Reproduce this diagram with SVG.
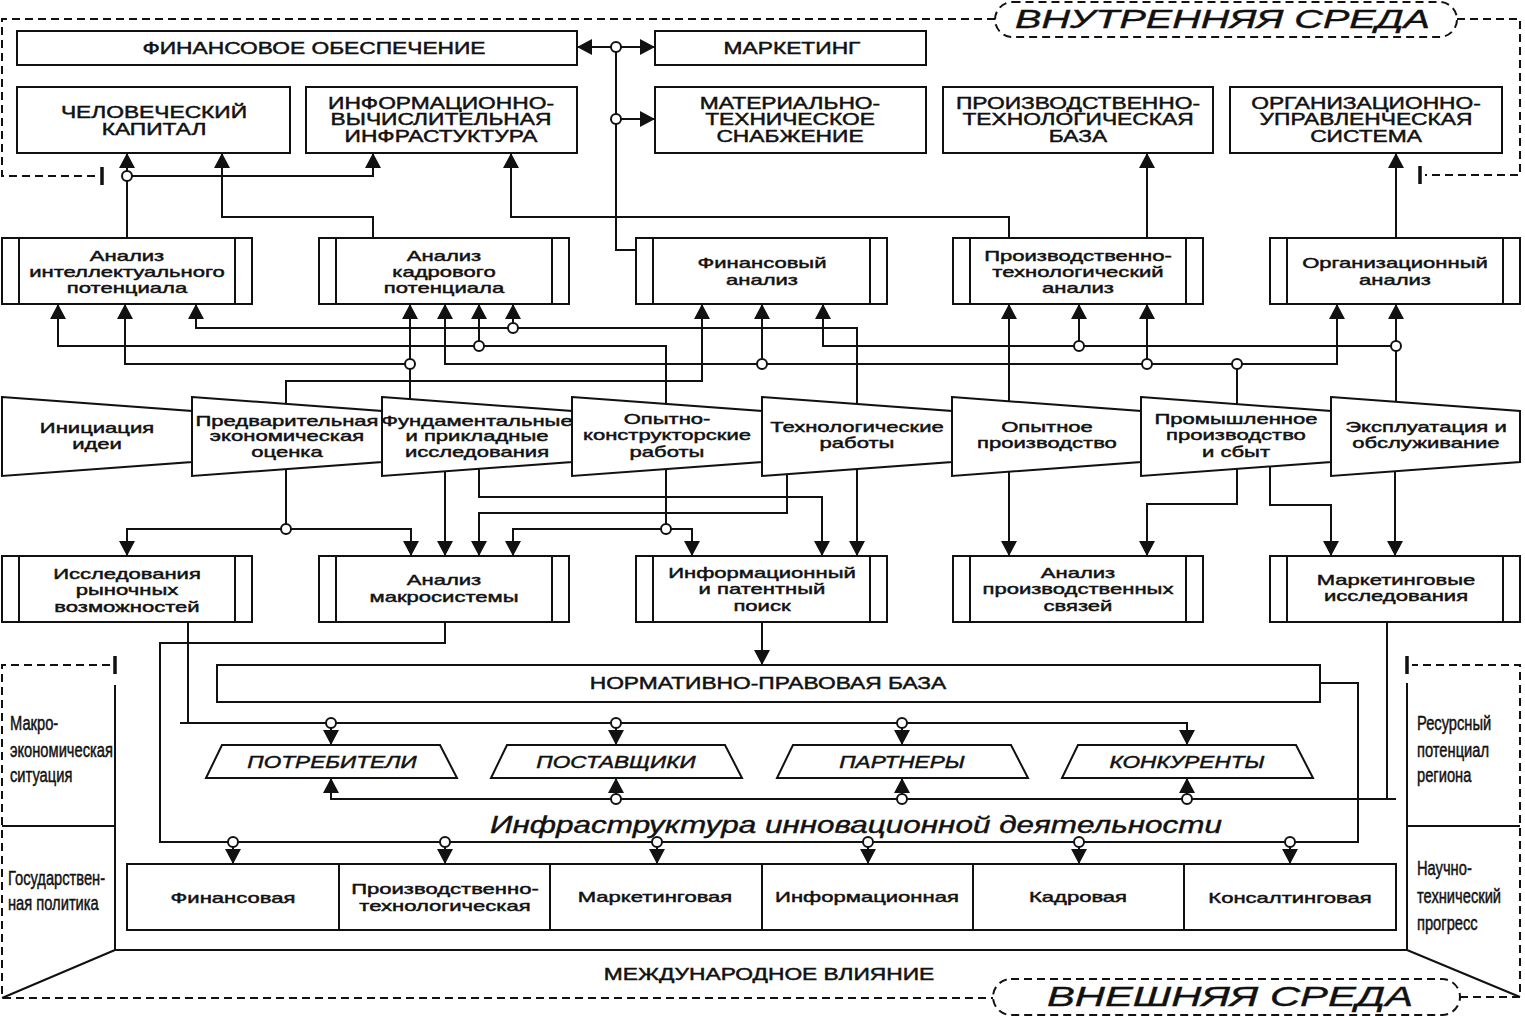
<svg xmlns="http://www.w3.org/2000/svg" width="1525" height="1016" viewBox="0 0 1525 1016">
<style>
.bx{fill:#fff;stroke:#111;stroke-width:2}
.ln{fill:none;stroke:#111;stroke-width:2}
.ar{fill:none;stroke:#111;stroke-width:2;marker-end:url(#ah)}
.dl{fill:none;stroke:#111;stroke-width:2;stroke-dasharray:8 5}
.tk{fill:none;stroke:#111;stroke-width:3.5}
.jn{fill:#fff;stroke:#111;stroke-width:2}
text{fill:#111;font-family:"Liberation Sans",Arial,sans-serif}
.u{font-size:16.5px;text-anchor:middle;stroke:#111;stroke-width:0.45px}
.l{font-size:15px;text-anchor:middle;stroke:#111;stroke-width:0.45px}
.i{font-size:17px;font-style:italic;text-anchor:middle;stroke:#111;stroke-width:0.45px}
.n{font-size:21px;stroke:#111;stroke-width:0.5px}
.big{font-style:italic;stroke:#111;stroke-width:0.4px}
</style>
<defs>
<marker id="ah" viewBox="0 0 15 16" refX="15" refY="8" markerWidth="15" markerHeight="16" markerUnits="userSpaceOnUse" orient="auto"><path d="M0,0L15,8L0,16z" fill="#111"/></marker>
</defs>
<rect width="1525" height="1016" fill="#fff"/>

<!-- frames -->
<g id="vnutrennyaya-sreda">
<path class="dl" d="M995,19H2V176H97"/>
<path class="dl" d="M1457,19H1520V175H1425"/>
<path class="tk" d="M102,167V185M1420,166V184"/>
<rect class="dl" x="995" y="2" width="462" height="35" rx="17.5"/>
<text class="big" x="1015" y="28" font-size="25" textLength="415" lengthAdjust="spacingAndGlyphs">ВНУТРЕННЯЯ СРЕДА</text>
</g>
<g id="vneshnyaya-sreda">
<path class="dl" d="M110,665H2V998H993"/>
<path class="dl" d="M1460,997H1520V665H1412"/>
<path class="tk" d="M115,656V674M1407,656V674"/>
<path class="ln" d="M115,685V950H1407V683M2,826H115M1407,826H1520M115,950L2,998M1407,950L1520,997"/>
<rect class="dl" x="993" y="979" width="467" height="36" rx="18"/>
<text class="big" x="1047" y="1006" font-size="28" textLength="366" lengthAdjust="spacingAndGlyphs">ВНЕШНЯЯ СРЕДА</text>
<text class="n" transform="translate(10,730) scale(0.7,1)"><tspan x="0">Макро-</tspan><tspan x="0" dy="27">экономическая</tspan><tspan x="0" dy="25">ситуация</tspan></text>
<text class="n" transform="translate(8,885) scale(0.7,1)"><tspan x="0">Государствен-</tspan><tspan x="0" dy="25">ная политика</tspan></text>
<text class="n" transform="translate(1417,730) scale(0.7,1)"><tspan x="0">Ресурсный</tspan><tspan x="0" dy="27">потенциал</tspan><tspan x="0" dy="25">региона</tspan></text>
<text class="n" transform="translate(1417,875) scale(0.7,1)"><tspan x="0">Научно-</tspan><tspan x="0" dy="28">технический</tspan><tspan x="0" dy="27">прогресс</tspan></text>
<text class="u" transform="translate(769,980) scale(1.38,1)">МЕЖДУНАРОДНОЕ ВЛИЯНИЕ</text>
<text x="490" y="833" font-family="'Noto Sans',sans-serif" font-style="italic" font-size="23" stroke="#111" stroke-width="0.4" textLength="732" lengthAdjust="spacingAndGlyphs">Инфраструктура инновационной деятельности</text>
</g>

<!-- connectors -->
<g id="connectors">
<path class="ar" d="M127,238V153"/>
<path class="ar" d="M127,176H373V153"/>
<path class="ar" d="M373,238V217H222V153"/>
<path class="ar" d="M1009,238V217H511V153"/>
<path class="ar" d="M636,250H616V47H577"/>
<path class="ar" d="M616,47H655"/>
<path class="ar" d="M616,119H655"/>
<path class="ar" d="M1147,238V153"/>
<path class="ar" d="M1396,238V153"/>

<path class="ar" d="M286,404V381H702V304"/>
<path class="ar" d="M410,399V304"/>
<path class="ar" d="M410,364H125V304"/>
<path class="ar" d="M666,404V346H58V304"/>
<path class="ar" d="M479,346V304"/>
<path class="ar" d="M857,404V328H196V304"/>
<path class="ar" d="M513,328V304"/>
<path class="ar" d="M1237,404V364H445V304"/>
<path class="ar" d="M762,364V304"/>
<path class="ar" d="M1147,364V304"/>
<path class="ar" d="M1237,364H1337V304"/>
<path class="ar" d="M1396,402V304"/>
<path class="ar" d="M1396,346H823V304"/>
<path class="ar" d="M1079,346V304"/>
<path class="ar" d="M1009,401V304"/>

<path class="ar" d="M286,469V529H127V556"/>
<path class="ar" d="M286,529H411V556"/>
<path class="ar" d="M445,471V556"/>
<path class="ar" d="M479,468V497H822V556"/>
<path class="ar" d="M787,474V513H479V556"/>
<path class="ar" d="M666,469V529H513V556"/>
<path class="ar" d="M666,529H692V556"/>
<path class="ar" d="M857,469V556"/>
<path class="ar" d="M1009,472V556"/>
<path class="ar" d="M1237,469V504H1147V556"/>
<path class="ar" d="M1270,466V505H1331V556"/>
<path class="ar" d="M1395,471V556"/>

<path class="ar" d="M762,622V665"/>
<path class="ln" d="M188,622V723"/>
<path class="ar" d="M180,723H1187V745"/>
<path class="ar" d="M331,723V745"/>
<path class="ar" d="M616,723V745"/>
<path class="ar" d="M902,723V745"/>
<path class="ln" d="M1387,622V799"/>
<path class="ar" d="M1396,799H331V778"/>
<path class="ar" d="M616,799V778"/>
<path class="ar" d="M902,799V778"/>
<path class="ar" d="M1187,799V778"/>
<path class="ln" d="M445,622V643H160V842H1358V683H1320"/>
<path class="ar" d="M233,842V864"/>
<path class="ar" d="M445,842V864"/>
<path class="ar" d="M657,842V864"/>
<path class="ar" d="M868,842V864"/>
<path class="ar" d="M1079,842V864"/>
<path class="ar" d="M1290,842V864"/>

<g class="jn">
<circle cx="127" cy="176" r="5"/><circle cx="616" cy="47" r="5"/><circle cx="616" cy="119" r="5"/>
<circle cx="410" cy="364" r="5"/><circle cx="479" cy="346" r="5"/><circle cx="513" cy="328" r="5"/>
<circle cx="762" cy="364" r="5"/><circle cx="1147" cy="364" r="5"/><circle cx="1237" cy="364" r="5"/>
<circle cx="1079" cy="346" r="5"/><circle cx="1396" cy="346" r="5"/>
<circle cx="286" cy="529" r="5"/><circle cx="666" cy="529" r="5"/>
<circle cx="331" cy="723" r="5"/><circle cx="616" cy="723" r="5"/><circle cx="902" cy="723" r="5"/>
<circle cx="616" cy="799" r="5"/><circle cx="902" cy="799" r="5"/><circle cx="1187" cy="799" r="5"/>
<circle cx="233" cy="842" r="5"/><circle cx="445" cy="842" r="5"/><circle cx="657" cy="842" r="5"/>
<circle cx="868" cy="842" r="5"/><circle cx="1079" cy="842" r="5"/><circle cx="1290" cy="842" r="5"/>
</g>
</g>

<!-- top resource boxes -->
<g id="fin-obespechenie"><rect class="bx" x="17" y="31" width="560" height="34"/><text class="u" transform="translate(314,54) scale(1.38,1)">ФИНАНСОВОЕ ОБЕСПЕЧЕНИЕ</text></g>
<g id="marketing"><rect class="bx" x="655" y="31" width="271" height="34"/><text class="u" transform="translate(792,54) scale(1.38,1)">МАРКЕТИНГ</text></g>
<g id="chel-kapital"><rect class="bx" x="17" y="87" width="273" height="66"/><text class="u" transform="translate(154,118) scale(1.38,1)"><tspan x="0">ЧЕЛОВЕЧЕСКИЙ</tspan><tspan x="0" dy="17">КАПИТАЛ</tspan></text></g>
<g id="inf-vych"><rect class="bx" x="306" y="87" width="271" height="66"/><text class="u" transform="translate(441,109) scale(1.38,1)"><tspan x="0">ИНФОРМАЦИОННО-</tspan><tspan x="0" dy="16.5">ВЫЧИСЛИТЕЛЬНАЯ</tspan><tspan x="0" dy="16.5">ИНФРАСТУКТУРА</tspan></text></g>
<g id="mat-tech"><rect class="bx" x="655" y="87" width="271" height="66"/><text class="u" transform="translate(790,109) scale(1.38,1)"><tspan x="0">МАТЕРИАЛЬНО-</tspan><tspan x="0" dy="16.5">ТЕХНИЧЕСКОЕ</tspan><tspan x="0" dy="16.5">СНАБЖЕНИЕ</tspan></text></g>
<g id="pt-baza"><rect class="bx" x="943" y="87" width="270" height="66"/><text class="u" transform="translate(1078,109) scale(1.38,1)"><tspan x="0">ПРОИЗВОДСТВЕННО-</tspan><tspan x="0" dy="16.5">ТЕХНОЛОГИЧЕСКАЯ</tspan><tspan x="0" dy="16.5">БАЗА</tspan></text></g>
<g id="ou-sistema"><rect class="bx" x="1230" y="87" width="272" height="66"/><text class="u" transform="translate(1366,109) scale(1.38,1)"><tspan x="0">ОРГАНИЗАЦИОННО-</tspan><tspan x="0" dy="16.5">УПРАВЛЕНЧЕСКАЯ</tspan><tspan x="0" dy="16.5">СИСТЕМА</tspan></text></g>

<!-- analysis row 1 -->
<g id="an-intel"><rect class="bx" x="2" y="238" width="250" height="66"/><path class="ln" d="M19,238V304M235,238V304"/><text class="l" transform="translate(127,261) scale(1.47,1)"><tspan x="0">Анализ</tspan><tspan x="0" dy="16">интеллектуального</tspan><tspan x="0" dy="16">потенциала</tspan></text></g>
<g id="an-kadr"><rect class="bx" x="319" y="238" width="250" height="66"/><path class="ln" d="M336,238V304M552,238V304"/><text class="l" transform="translate(444,261) scale(1.47,1)"><tspan x="0">Анализ</tspan><tspan x="0" dy="16">кадрового</tspan><tspan x="0" dy="16">потенциала</tspan></text></g>
<g id="an-fin"><rect class="bx" x="636" y="238" width="251" height="66"/><path class="ln" d="M653,238V304M870,238V304"/><text class="l" transform="translate(762,268) scale(1.47,1)"><tspan x="0">Финансовый</tspan><tspan x="0" dy="17">анализ</tspan></text></g>
<g id="an-pt"><rect class="bx" x="953" y="238" width="250" height="66"/><path class="ln" d="M970,238V304M1186,238V304"/><text class="l" transform="translate(1078,261) scale(1.47,1)"><tspan x="0">Производственно-</tspan><tspan x="0" dy="16">технологический</tspan><tspan x="0" dy="16">анализ</tspan></text></g>
<g id="an-org"><rect class="bx" x="1270" y="238" width="250" height="66"/><path class="ln" d="M1287,238V304M1503,238V304"/><text class="l" transform="translate(1395,268) scale(1.47,1)"><tspan x="0">Организационный</tspan><tspan x="0" dy="17">анализ</tspan></text></g>

<!-- stages -->
<g id="st-init"><polygon class="bx" points="2,397 192,411 192,462 2,476"/><text class="l" transform="translate(97,433) scale(1.47,1)"><tspan x="0">Инициация</tspan><tspan x="0" dy="16">идеи</tspan></text></g>
<g id="st-pred"><polygon class="bx" points="192,397 382,411 382,462 192,476"/><text class="l" transform="translate(287,426) scale(1.47,1)"><tspan x="0">Предварительная</tspan><tspan x="0" dy="15.5">экономическая</tspan><tspan x="0" dy="15.5">оценка</tspan></text></g>
<g id="st-fund"><polygon class="bx" points="382,397 572,411 572,462 382,476"/><text class="l" transform="translate(477,426) scale(1.47,1)"><tspan x="0">Фундаментальные</tspan><tspan x="0" dy="15.5">и прикладные</tspan><tspan x="0" dy="15.5">исследования</tspan></text></g>
<g id="st-okr"><polygon class="bx" points="572,397 762,411 762,462 572,476"/><text class="l" transform="translate(667,424) scale(1.47,1)"><tspan x="0">Опытно-</tspan><tspan x="0" dy="16.5">конструкторские</tspan><tspan x="0" dy="16.5">работы</tspan></text></g>
<g id="st-tech"><polygon class="bx" points="762,397 952,411 952,462 762,476"/><text class="l" transform="translate(857,432) scale(1.47,1)"><tspan x="0">Технологические</tspan><tspan x="0" dy="16">работы</tspan></text></g>
<g id="st-opyt"><polygon class="bx" points="952,397 1141,411 1141,462 952,476"/><text class="l" transform="translate(1047,432) scale(1.47,1)"><tspan x="0">Опытное</tspan><tspan x="0" dy="16">производство</tspan></text></g>
<g id="st-prom"><polygon class="bx" points="1141,397 1331,411 1331,462 1141,476"/><text class="l" transform="translate(1236,424) scale(1.47,1)"><tspan x="0">Промышленное</tspan><tspan x="0" dy="16.5">производство</tspan><tspan x="0" dy="16.5">и сбыт</tspan></text></g>
<g id="st-expl"><polygon class="bx" points="1331,397 1520,411 1520,462 1331,476"/><text class="l" transform="translate(1426,432) scale(1.47,1)"><tspan x="0">Эксплуатация и</tspan><tspan x="0" dy="16">обслуживание</tspan></text></g>

<!-- analysis row 2 -->
<g id="issl-ryn"><rect class="bx" x="2" y="556" width="250" height="66"/><path class="ln" d="M19,556V622M235,556V622"/><text class="l" transform="translate(127,579) scale(1.47,1)"><tspan x="0">Исследования</tspan><tspan x="0" dy="16.5">рыночных</tspan><tspan x="0" dy="16.5">возможностей</tspan></text></g>
<g id="an-makro"><rect class="bx" x="319" y="556" width="250" height="66"/><path class="ln" d="M336,556V622M552,556V622"/><text class="l" transform="translate(444,585) scale(1.47,1)"><tspan x="0">Анализ</tspan><tspan x="0" dy="17">макросистемы</tspan></text></g>
<g id="inf-poisk"><rect class="bx" x="636" y="556" width="251" height="66"/><path class="ln" d="M653,556V622M870,556V622"/><text class="l" transform="translate(762,578) scale(1.47,1)"><tspan x="0">Информационный</tspan><tspan x="0" dy="16.5">и патентный</tspan><tspan x="0" dy="16.5">поиск</tspan></text></g>
<g id="an-svyaz"><rect class="bx" x="953" y="556" width="250" height="66"/><path class="ln" d="M970,556V622M1186,556V622"/><text class="l" transform="translate(1078,578) scale(1.47,1)"><tspan x="0">Анализ</tspan><tspan x="0" dy="16.5">производственных</tspan><tspan x="0" dy="16.5">связей</tspan></text></g>
<g id="mark-issl"><rect class="bx" x="1270" y="556" width="250" height="66"/><path class="ln" d="M1287,556V622M1503,556V622"/><text class="l" transform="translate(1396,585) scale(1.47,1)"><tspan x="0">Маркетинговые</tspan><tspan x="0" dy="16">исследования</tspan></text></g>

<!-- external -->
<g id="npb"><rect class="bx" x="217" y="665" width="1103" height="37"/><text class="u" transform="translate(768,689) scale(1.38,1)">НОРМАТИВНО-ПРАВОВАЯ БАЗА</text></g>
<g id="potrebiteli"><polygon class="bx" points="222,745 440,745 457,778 206,778"/><text class="i" transform="translate(332,768) scale(1.33,1)">ПОТРЕБИТЕЛИ</text></g>
<g id="postavshiki"><polygon class="bx" points="507,745 725,745 742,778 491,778"/><text class="i" transform="translate(616,768) scale(1.33,1)">ПОСТАВЩИКИ</text></g>
<g id="partnery"><polygon class="bx" points="793,745 1011,745 1028,778 777,778"/><text class="i" transform="translate(902,768) scale(1.33,1)">ПАРТНЕРЫ</text></g>
<g id="konkurenty"><polygon class="bx" points="1078,745 1296,745 1313,778 1062,778"/><text class="i" transform="translate(1187,768) scale(1.33,1)">КОНКУРЕНТЫ</text></g>

<!-- infrastructure -->
<g id="inf-fin"><rect class="bx" x="127" y="864" width="212" height="66"/><text class="l" transform="translate(233,903) scale(1.47,1)">Финансовая</text></g>
<g id="inf-pt"><rect class="bx" x="339" y="864" width="211" height="66"/><text class="l" transform="translate(445,894) scale(1.47,1)"><tspan x="0">Производственно-</tspan><tspan x="0" dy="17">технологическая</tspan></text></g>
<g id="inf-mark"><rect class="bx" x="550" y="864" width="212" height="66"/><text class="l" transform="translate(655,902) scale(1.47,1)">Маркетинговая</text></g>
<g id="inf-inf"><rect class="bx" x="762" y="864" width="211" height="66"/><text class="l" transform="translate(867,902) scale(1.47,1)">Информационная</text></g>
<g id="inf-kadr"><rect class="bx" x="973" y="864" width="211" height="66"/><text class="l" transform="translate(1078,902) scale(1.47,1)">Кадровая</text></g>
<g id="inf-kons"><rect class="bx" x="1184" y="864" width="212" height="66"/><text class="l" transform="translate(1290,903) scale(1.47,1)">Консалтинговая</text></g>
</svg>
